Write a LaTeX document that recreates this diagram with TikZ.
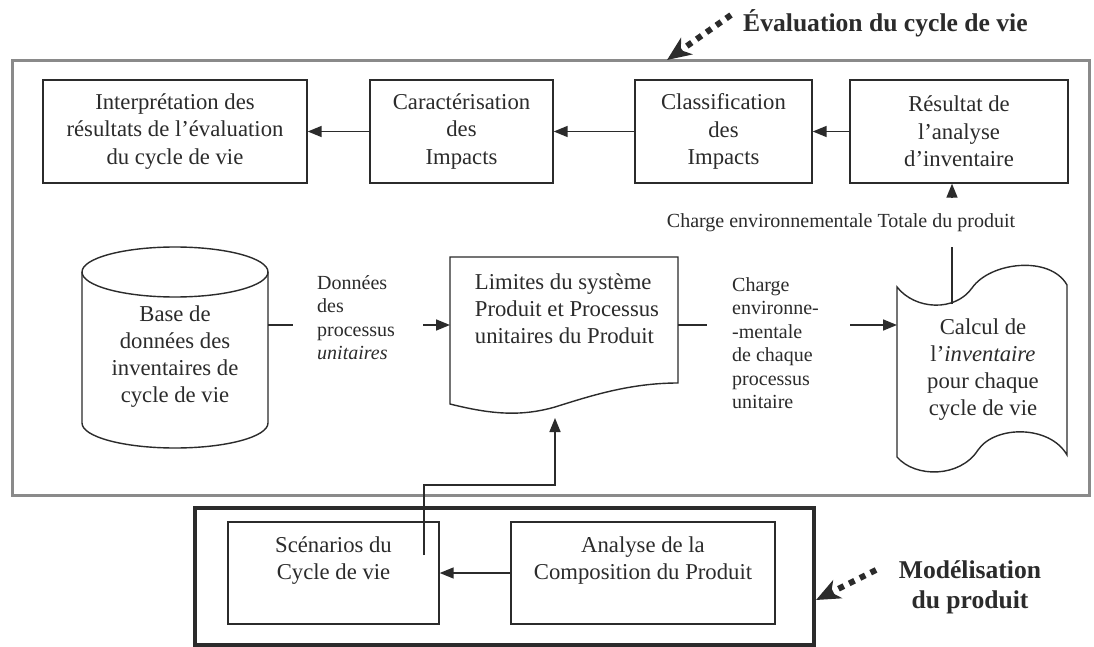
\documentclass[tikz,border=0pt]{standalone}
\usepackage{fontspec}
\setmainfont{Liberation Serif}
\usetikzlibrary{arrows.meta}
\definecolor{ink}{HTML}{2B2B2B}
\definecolor{frame}{HTML}{8A8A8A}
\tikzset{
  box/.style={draw=ink, line width=1.4pt, align=center, inner sep=0pt,
              font=\fontsize{22.7}{27.5}\selectfont, text=ink},
  outline/.style={draw=ink, line width=1.4pt},
  txt/.style={font=\fontsize{22.7}{27}\selectfont, text=ink, align=center, inner sep=0pt},
  lbl/.style={font=\fontsize{20}{23.5}\selectfont, text=ink, align=left, inner sep=0pt},
  head/.style={font=\fontsize{25.6}{30}\selectfont\bfseries, text=ink, align=center, inner sep=0pt},
  conn/.style={draw=ink, line width=1.6pt},
  arr/.style={conn, -{Triangle[length=14pt,width=11pt]}},
  pointer/.style={draw=ink, line width=6pt, dash pattern=on 6pt off 6pt,
                  -{Stealth[length=24pt,width=20pt,inset=7pt]}},
}
\begin{document}
\begin{tikzpicture}[x=1pt,y=-1pt]
  \useasboundingbox[fill=white] (0,0) rectangle (1094,647);

  % frames of the two stages
  \draw[frame, line width=3pt] (12,61) rectangle (1089,495);
  \draw[ink, line width=3.2pt] (195,508) rectangle (814,645);

  % stage titles with their dotted pointers
  \node[head, anchor=base west] (evaltitle) at (743,32) {Évaluation du cycle de vie};
  \coordinate (evaltip) at (667,60);
  \draw[pointer] (731,15) -- (evaltip);
  \node[head] (modtitle) at (970,587) {Modélisation\\du produit};
  \coordinate (modtip) at (816,600);
  \draw[pointer] (876,570) -- (modtip);

  % upper row of boxes
  \node[box, minimum width=264pt, minimum height=103pt] (interp) at (175,131.5)
    {Interprétation des\\résultats de l'évaluation\\du cycle de vie};
  \node[box, minimum width=183pt, minimum height=103pt] (carac) at (461.5,131.5)
    {Caractérisation\\des\\Impacts};
  \node[box, minimum width=177pt, minimum height=103pt] (classif) at (723.5,131.5)
    {Classification\\des\\Impacts};
  \node[box, minimum width=218pt, minimum height=103pt] (result) at (959,131.5)
    {Résultat de\\l'analyse\\d'inventaire};
  \draw[arr] (result.west) -- (classif.east);
  \draw[arr] (classif.west) -- (carac.east);
  \draw[arr] (carac.west) -- (interp.east);

  % life cycle inventory database (cylinder)
  \draw[outline] (82,272) -- (82,423) arc[start angle=180, end angle=0, x radius=93, y radius=25] -- (268,272);
  \draw[outline] (175,272) ellipse[x radius=93, y radius=25];
  \node[txt] (db) at (175,357) {Base de\\données des\\inventaires de\\cycle de vie};
  \coordinate (dbeast) at (268,325);

  % system boundaries document
  \draw[outline] (450,257) -- (678,257) -- (678,383)
     .. controls (630,383) and (590,396) .. (555,407)
     .. controls (520,417) and (490,414) .. (450,404) -- cycle;
  \node[txt, align=left] (lim) at (567,309)
    {Limites du système\\Produit et Processus\\unitaires du Produit};
  \coordinate (limwest) at (450,325);
  \coordinate (limeast) at (678,325);
  \coordinate (limbottom) at (555,418);

  % inventory calculation (tape)
  \draw[outline] (897,287)
     .. controls (915,310) and (955,312) .. (972,288)
     .. controls (990,262) and (1050,255) .. (1067,285)
     -- (1067,455)
     .. controls (1050,425) and (995,425) .. (978,450)
     .. controls (960,478) and (915,478) .. (897,457) -- cycle;
  \node[txt] (calc) at (983,370)
    {Calcul de\\l'\textit{inventaire}\\pour chaque\\cycle de vie};
  \coordinate (calcwest) at (897,325);
  \coordinate (calctop) at (952,304);

  % flow labels
  \node[lbl, anchor=north west] (donnees) at (317,275)
    {Données\\des\\processus\\\textit{unitaires}};
  \draw[conn] (dbeast) -- (293,325);
  \draw[arr] (423,325) -- (limwest);

  \node[lbl, anchor=north west] (charge) at (732,277)
    {Charge\\environne-\\-mentale\\de chaque\\processus\\unitaire};
  \draw[conn] (limeast) -- (707,325);
  \draw[arr] (850,325) -- (calcwest);

  \node[lbl, align=center] (total) at (841,223) {Charge environnementale Totale du produit};
  \coordinate (totalup) at (952,198);
  \draw[conn] (calctop) -- (952,247);
  \draw[arr] (totalup) -- (totalup |- result.south);

  % product modelling boxes
  \node[box, minimum width=211pt, minimum height=102pt] (scen) at (333.5,573) {};
  \node[txt] (scentext) at (333.5,561) {Scénarios du\\Cycle de vie};
  \node[box, minimum width=264pt, minimum height=102pt] (compo) at (643,573) {};
  \node[txt] (compotext) at (643,561) {Analyse de la\\Composition du Produit};
  \draw[arr] (compo.west) -- (scen.east);
  \coordinate (scenout) at (424,555);
  \draw[arr] (scenout) -- (424,485) -- (555,485) -- (limbottom);
\end{tikzpicture}
\end{document}
